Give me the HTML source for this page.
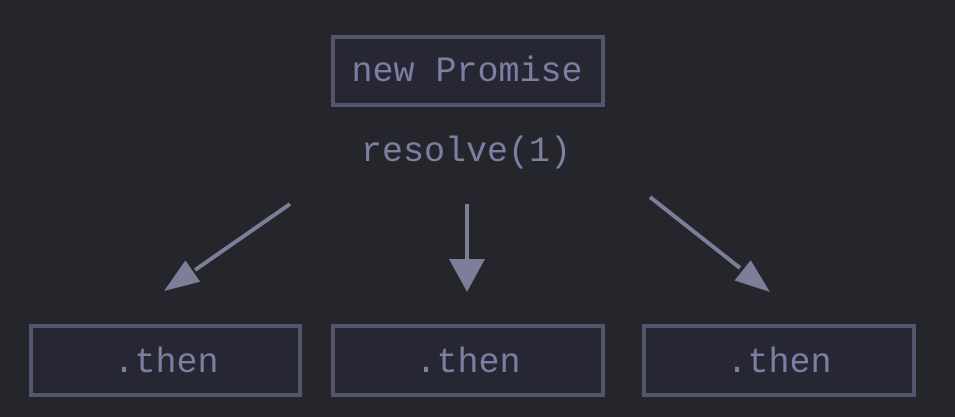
<!DOCTYPE html>
<html><head><meta charset="utf-8"><style>
html,body{margin:0;padding:0;background:#25262b;}
svg{display:block;}
text{font-family:"Liberation Mono",monospace;font-size:35px;fill:#7b7fa3;}
</style></head><body>
<svg width="955" height="417" viewBox="0 0 955 417">
<rect width="955" height="417" fill="#25262b"/>
<g fill="#272733" stroke="#55556d" stroke-width="4">
<rect x="333" y="37" width="270" height="68"/>
<rect x="31" y="326" width="269" height="69"/>
<rect x="333" y="326" width="270" height="69"/>
<rect x="644" y="326" width="270" height="69"/>
</g>
<text x="467" y="81" text-anchor="middle">new Promise</text>
<text x="466" y="161" text-anchor="middle">resolve(1)</text>
<text x="166" y="372" text-anchor="middle">.then</text>
<text x="468" y="372" text-anchor="middle">.then</text>
<text x="779" y="372" text-anchor="middle">.then</text>
<g stroke="#7e7e9a" stroke-width="4" fill="none">
<line x1="290" y1="204" x2="195" y2="270"/>
<line x1="467" y1="204" x2="467" y2="262"/>
<line x1="650" y1="197" x2="740" y2="268"/>
</g>
<g fill="#7e7e9a">
<polygon points="164,291 200.2,281.8 185.4,260.4"/>
<polygon points="467,292 449,259 485,259"/>
<polygon points="770,292 734.5,280.5 750.7,260.1"/>
</g>
</svg>
</body></html>
